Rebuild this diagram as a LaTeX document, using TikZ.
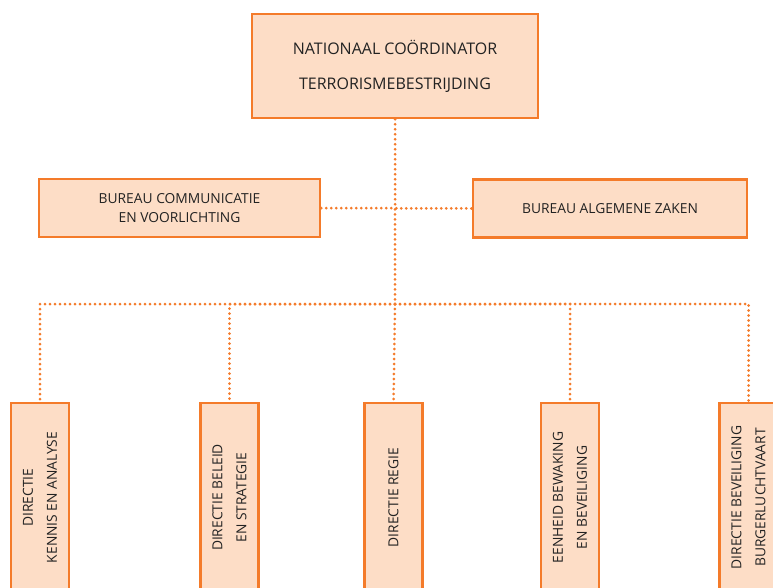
\documentclass[tikz,border=0pt]{standalone}
\usepackage{fontspec}
\setmainfont{Open Sans}
\usepackage{tikz}
\definecolor{nctborange}{HTML}{F47B2A}
\definecolor{nctbfill}{HTML}{FDDDC6}
\definecolor{nctbtext}{HTML}{222222}
\tikzstyle{head} = [rectangle, draw=nctborange, line width=2.5pt, fill=nctbfill, minimum width=286pt, minimum height=104pt, align=center, text=nctbtext, font=\fontsize{16}{35}\selectfont]
\tikzstyle{bureau} = [rectangle, draw=nctborange, line width=2.5pt, fill=nctbfill, minimum height=58pt, align=center, text=nctbtext, font=\fontsize{13.8}{19}\selectfont]
\tikzstyle{directie} = [rectangle, draw=nctborange, line width=2.5pt, fill=nctbfill, rotate=90, minimum width=189pt, minimum height=58pt, align=center, text=nctbtext, font=\fontsize{13.8}{24}\selectfont]
\tikzstyle{dotline} = [draw=nctborange, line width=3pt, line cap=round, dash pattern=on 0pt off 5pt]

\begin{document}
\begin{tikzpicture}[x=1pt, y=-1pt]
            \useasboundingbox (0,0) rectangle (773,587);
            \clip (0,0) rectangle (773,587);
            % top of the organisation
            \node [head] at (395,66) (nctb) {NATIONAAL COÖRDINATOR\\TERRORISMEBESTRIJDING};
            % staff bureaus
            \node [bureau, minimum width=281pt] at (179.5,208) (bureau1) {BUREAU COMMUNICATIE\\EN VOORLICHTING};
            \node [bureau, minimum width=274pt] at (610,208.5) (bureau2) {BUREAU ALGEMENE ZAKEN};
            % directies
            \node [directie] at (40,497.5) (directie1) {DIRECTIE\\KENNIS EN ANALYSE};
            \node [directie] at (229.5,497.5) (directie2) {DIRECTIE BELEID\\EN STRATEGIE};
            \node [directie] at (393.5,497.5) (directie3) {DIRECTIE REGIE};
            \node [directie] at (570,497.5) (directie4) {EENHEID BEWAKING\\EN BEVEILIGING};
            \node [directie] at (748.5,497.5) (directie5) {DIRECTIE BEVEILIGING\\BURGERLUCHTVAART};

            \coordinate (bus) at (nctb.south |- 0,304);

            \draw [dotline] (bureau1.east) -- (bureau2.west);
            \draw [dotline] (nctb.south) -- (bus);
            \draw [dotline] (bus) -| (directie1.east);
            \draw [dotline] (bus) -| (directie2.east);
            \draw [dotline] (bus) -- (directie3.east);
            \draw [dotline] (bus) -| (directie4.east);
            \draw [dotline] (bus) -| (directie5.east);
            \end{tikzpicture}
\end{document}
